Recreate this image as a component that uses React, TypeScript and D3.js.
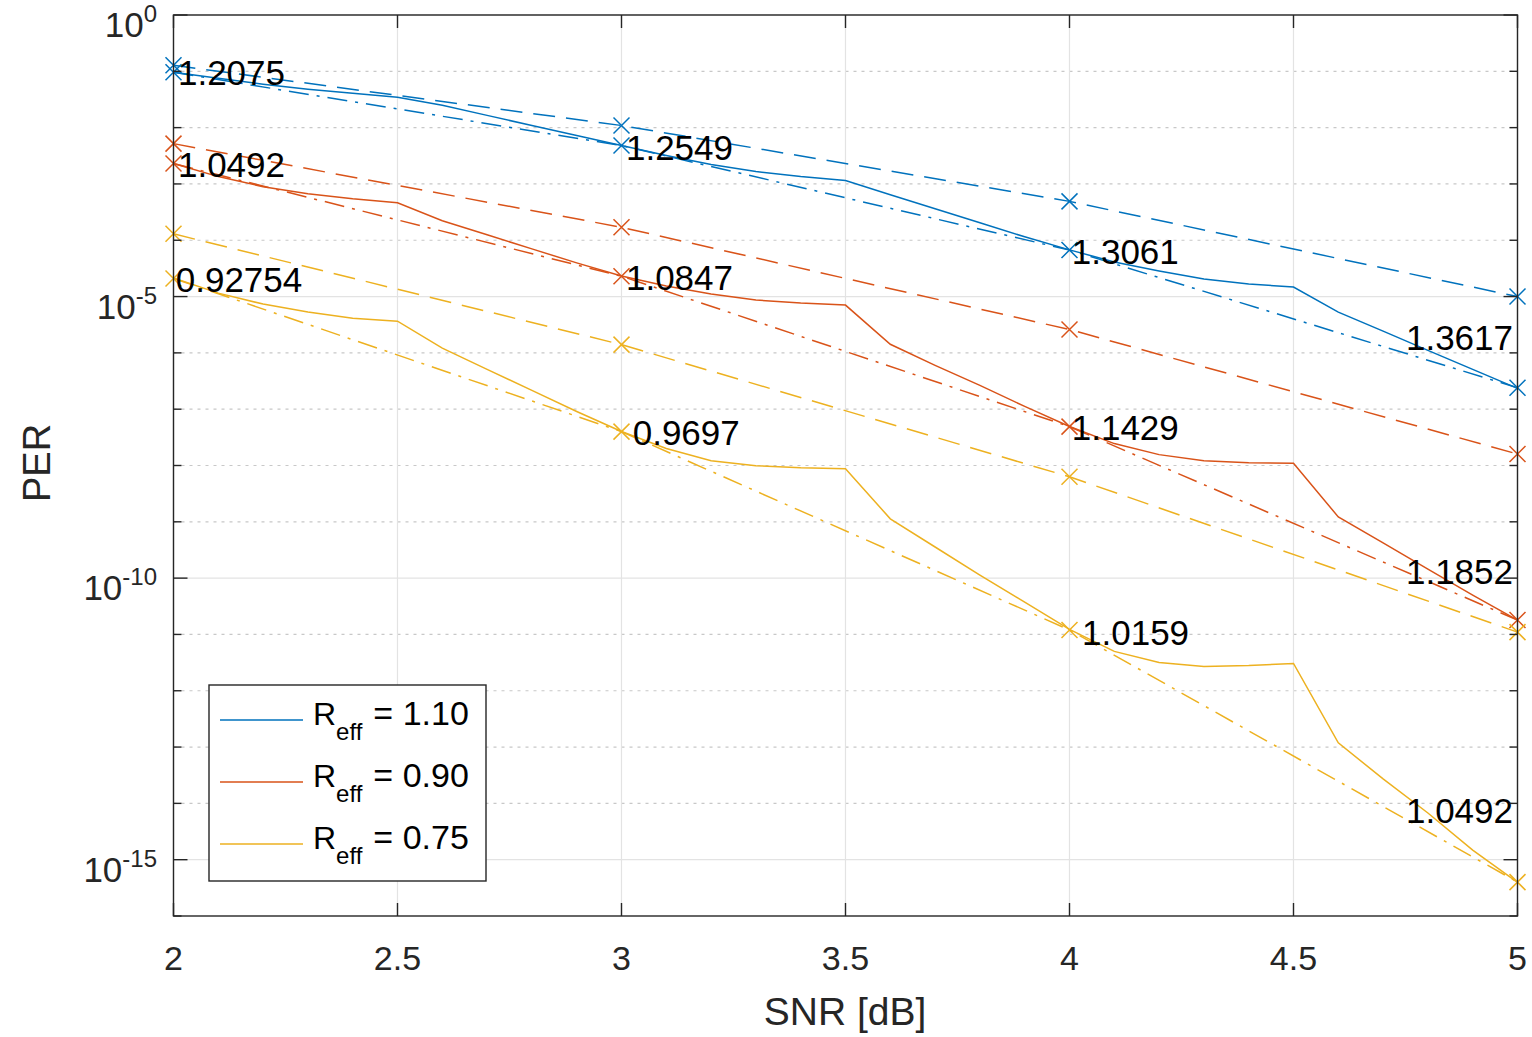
import React from "react";
import * as d3 from "d3";

// SNR grid (dB)
const snrMarked = [2, 3, 4, 5];
const snrFine = [
  2.0, 2.1, 2.2, 2.3, 2.4, 2.5, 2.6, 2.7, 2.8, 2.9, 3.0, 3.1, 3.2, 3.3, 3.4, 3.5,
  3.6, 3.7, 3.8, 3.9, 4.0, 4.1, 4.2, 4.3, 4.4, 4.5, 4.6, 4.7, 4.8, 4.9, 5.0,
];

// R_eff = 1.10 (blue)
const blueDashed = [1.28e-1, 1.09e-2, 4.9e-4, 1.0e-5];
const blueDashDot = [9.6e-2, 4.8e-3, 6.7e-5, 2.4e-7];
const blueSolid = [
  9.64e-2, 7.53e-2, 5.89e-2, 4.8e-2, 4.07e-2, 3.45e-2, 2.49e-2, 1.65e-2, 1.09e-2, 7.26e-3,
  4.82e-3, 3.2e-3, 2.21e-3, 1.66e-3, 1.35e-3, 1.15e-3, 6.45e-4, 3.63e-4, 2.04e-4, 1.15e-4,
  6.75e-5, 4.12e-5, 2.85e-5, 2.05e-5, 1.67e-5, 1.48e-5, 5.3e-6, 2.43e-6, 1.11e-6, 5.1e-7,
  2.34e-7,
];

// R_eff = 0.90 (red)
const redDashed = [5.2e-3, 1.7e-4, 2.6e-6, 1.6e-8];
const redDashDot = [2.3e-3, 2.3e-5, 4.9e-8, 1.8e-11];
const redSolid = [
  2.3e-3, 1.35e-3, 8.95e-4, 6.72e-4, 5.47e-4, 4.64e-4, 2.22e-4, 1.25e-4, 7.03e-5, 3.96e-5,
  2.32e-5, 1.54e-5, 1.11e-5, 8.67e-6, 7.66e-6, 7.06e-6, 1.42e-6, 6.01e-7, 2.65e-7, 1.12e-7,
  4.92e-8, 2.45e-8, 1.56e-8, 1.22e-8, 1.12e-8, 1.1e-8, 1.22e-9, 4.21e-10, 1.45e-10, 4.98e-11,
  1.79e-11,
];

// R_eff = 0.75 (yellow)
const yellowDashed = [1.3e-4, 1.4e-6, 6.3e-9, 1.1e-11];
const yellowDashDot = [2.1e-5, 4.0e-8, 1.2e-11, 4.0e-16];
const yellowSolid = [
  2.14e-5, 1.15e-5, 7.35e-6, 5.3e-6, 4.14e-6, 3.66e-6, 1.21e-6, 5.1e-7, 2.16e-7, 9.1e-8,
  4.01e-8, 2.0e-8, 1.22e-8, 9.93e-9, 9.14e-9, 8.78e-9, 1.13e-9, 3.57e-10, 1.13e-10, 3.74e-11,
  1.23e-11, 5.0e-12, 3.18e-12, 2.7e-12, 2.81e-12, 3.05e-12, 1.19e-13, 2.72e-14, 6.75e-15,
  1.48e-15, 3.97e-16,
];

// text annotations (data coordinates)
const noteText = ["1.2075", "1.0492", "0.92754", "1.2549", "1.0847", "0.9697", "1.3061", "1.1429", "1.0159", "1.3617", "1.1852", "1.0492"];
const noteX = [2.01, 2.01, 2.005, 3.01, 3.01, 3.025, 4.005, 4.005, 4.028, 4.99, 4.99, 4.99];
const noteY = [9.6e-2, 2.2e-3, 2.0e-5, 4.5e-3, 2.2e-5, 3.8e-8, 6.3e-5, 4.7e-8, 1.1e-11, 1.9e-6, 1.3e-10, 7.5e-15];
const noteRight = [false, false, false, false, false, false, false, false, false, true, true, true];

const legendValues = ["1.10", "0.90", "0.75"];
const xTicks = [2, 2.5, 3, 3.5, 4, 4.5, 5];
const yLabelExps = [0, -5, -10, -15];
const yDecades = d3.range(-16, 1);

const colors = ["#0072BD", "#D95319", "#EDB120"];
const FONT = "'Liberation Sans', Arial, Helvetica, sans-serif";

const series = [
  { color: colors[0], dashed: blueDashed, dashDot: blueDashDot, solid: blueSolid },
  { color: colors[1], dashed: redDashed, dashDot: redDashDot, solid: redSolid },
  { color: colors[2], dashed: yellowDashed, dashDot: yellowDashDot, solid: yellowSolid },
];

export default function App() {
  const W = 1532, H = 1037;
  const left = 173.5, right = 1517.5, top = 15, bottom = 916;

  const x = d3.scaleLinear().domain([2, 5]).range([left, right]);
  const y = d3.scaleLog().domain([1e-16, 1]).range([bottom, top]);

  const line = d3
    .line<[number, number]>()
    .x((d) => x(d[0]))
    .y((d) => y(d[1]));

  const pairs = (xs: number[], ys: number[]) => xs.map((v, i) => [v, ys[i]] as [number, number]);

  const marker = (cx: number, cy: number, color: string, key: string) => (
    <path
      key={key}
      d={`M${cx - 8},${cy - 8}L${cx + 8},${cy + 8}M${cx - 8},${cy + 8}L${cx + 8},${cy - 8}`}
      stroke={color}
      strokeWidth={1.5}
      fill="none"
    />
  );

  const axisColor = "#262626";

  return (
    <svg
      width={W}
      height={H}
      style={{ position: "absolute", left: 0, top: 0, background: "#fff" }}
      fontFamily={FONT}
    >
      <rect x={0} y={0} width={W} height={H} fill="#fff" />

      {/* minor grid (dotted, every decade) */}
      {yDecades
        .filter((e) => !yLabelExps.includes(e) && e !== -16)
        .map((e) => (
          <line
            key={`mg${e}`}
            x1={left}
            x2={right}
            y1={y(Math.pow(10, e))}
            y2={y(Math.pow(10, e))}
            stroke="#c8c8c8"
            strokeWidth={1.2}
            strokeDasharray="3,5"
          />
        ))}
      {/* major grid */}
      {yLabelExps.map((e) => (
        <line key={`gy${e}`} x1={left} x2={right} y1={y(Math.pow(10, e))} y2={y(Math.pow(10, e))} stroke="#e3e3e3" strokeWidth={1.2} />
      ))}
      {xTicks.map((t) => (
        <line key={`gx${t}`} x1={x(t)} x2={x(t)} y1={top} y2={bottom} stroke="#e3e3e3" strokeWidth={1.2} />
      ))}

      {/* data */}
      {series.map((s, si) => (
        <g key={`s${si}`} fill="none" stroke={s.color} strokeWidth={1.5}>
          <path d={line(pairs(snrMarked, s.dashed)) || ""} strokeDasharray="22,11" />
          <path d={line(pairs(snrMarked, s.dashDot)) || ""} strokeDasharray="20,8,3,8" />
          <path d={line(pairs(snrFine, s.solid)) || ""} />
          {snrMarked.map((v, i) => marker(x(v), y(s.dashed[i]), s.color, `md${si}${i}`))}
          {snrMarked.map((v, i) => marker(x(v), y(s.dashDot[i]), s.color, `mdd${si}${i}`))}
        </g>
      ))}

      {/* annotations */}
      {noteText.map((t, i) => (
        <text
          key={`n${i}`}
          x={x(noteX[i])}
          y={y(noteY[i])}
          dy="0.36em"
          fontSize={35}
          fill="#000"
          textAnchor={noteRight[i] ? "end" : "start"}
        >
          {t}
        </text>
      ))}

      {/* axes box */}
      <rect x={left} y={top} width={right - left} height={bottom - top} fill="none" stroke={axisColor} strokeWidth={1.4} />

      {/* x ticks */}
      {xTicks.map((t) => (
        <g key={`xt${t}`} stroke={axisColor} strokeWidth={1.4}>
          <line x1={x(t)} x2={x(t)} y1={bottom} y2={bottom - 13} />
          <line x1={x(t)} x2={x(t)} y1={top} y2={top + 13} />
        </g>
      ))}
      {xTicks.map((t) => (
        <text key={`xl${t}`} x={x(t)} y={970} fontSize={34} textAnchor="middle" fill="#262626">
          {t}
        </text>
      ))}

      {/* y ticks */}
      {yDecades.map((e) => {
        const len = yLabelExps.includes(e) ? 14 : 8;
        const yy = y(Math.pow(10, e));
        return (
          <g key={`yt${e}`} stroke={axisColor} strokeWidth={1.4}>
            <line x1={left} x2={left + len} y1={yy} y2={yy} />
            <line x1={right} x2={right - len} y1={yy} y2={yy} />
          </g>
        );
      })}
      {yLabelExps.map((e) => {
        const yy = y(Math.pow(10, e));
        return (
          <text key={`yl${e}`} x={157} y={yy + 22} fontSize={35} textAnchor="end" fill="#262626">
            10
            <tspan dy={-15} fontSize={24}>
              {String(e)}
            </tspan>
          </text>
        );
      })}

      {/* axis labels */}
      <text x={845} y={1025} fontSize={39} textAnchor="middle" fill="#262626">
        SNR [dB]
      </text>
      <text transform="translate(50,463) rotate(-90)" fontSize={38} textAnchor="middle" fill="#262626">
        PER
      </text>

      {/* legend */}
      <g>
        <rect x={209} y={685} width={277} height={196} fill="#fff" stroke={axisColor} strokeWidth={1.4} />
        {legendValues.map((v, i) => {
          const ly = 720 + i * 62;
          return (
            <g key={`lg${i}`}>
              <line x1={220} x2={303} y1={ly} y2={ly} stroke={colors[i]} strokeWidth={1.5} />
              <text x={313} y={ly + 5} fontSize={32} fill="#000">
                R
                <tspan dy={15} fontSize={24}>
                  eff
                </tspan>
                <tspan dy={-15} dx={11} fontSize={34}>
                  = {v}
                </tspan>
              </text>
            </g>
          );
        })}
      </g>
    </svg>
  );
}
